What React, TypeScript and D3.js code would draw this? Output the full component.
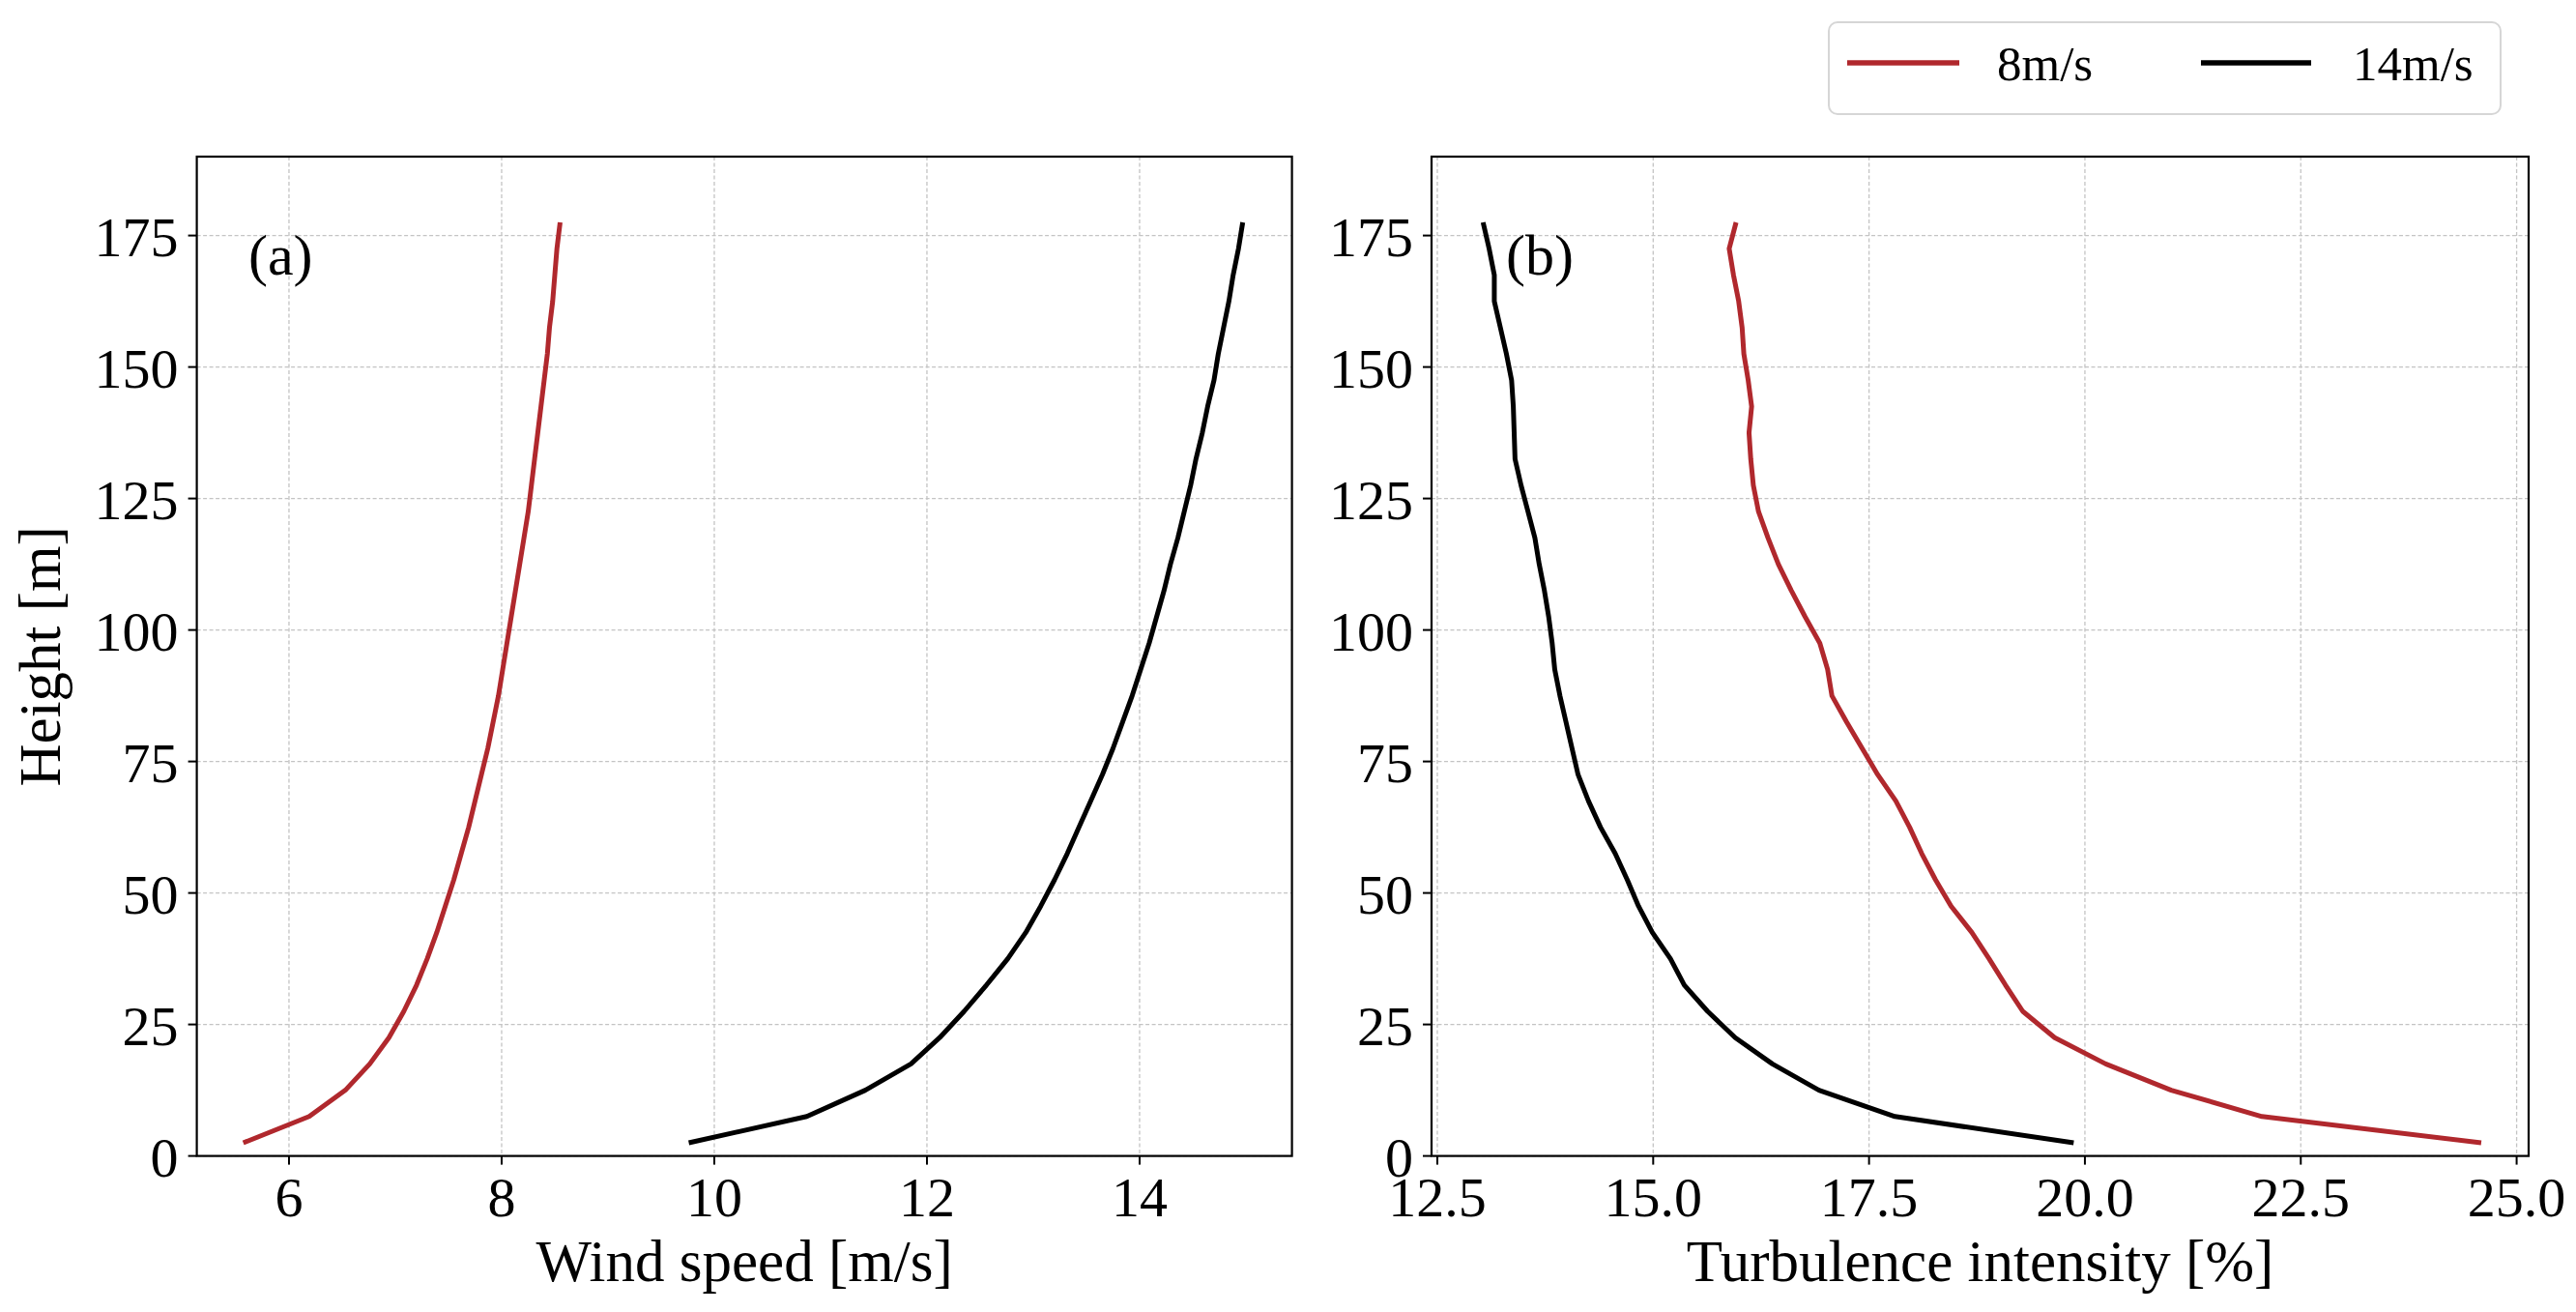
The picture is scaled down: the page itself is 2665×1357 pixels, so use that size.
import React from 'react';
import * as d3 from 'd3';

// heights of the measurement levels [m]
const heights = [
  2.5, 7.5, 12.5, 17.5, 22.5, 27.5, 32.5, 37.5, 42.5, 47.5, 52.5, 57.5,
  62.5, 67.5, 72.5, 77.5, 82.5, 87.5, 92.5, 97.5, 102.5, 107.5, 112.5, 117.5,
  122.5, 127.5, 132.5, 137.5, 142.5, 147.5, 152.5, 157.5, 162.5, 167.5, 172.5, 177.5,
];

// (a) wind speed [m/s]
const windSpeed8 = [
  5.57, 6.19, 6.53, 6.76, 6.94, 7.08, 7.2, 7.3, 7.39, 7.47, 7.55, 7.62,
  7.69, 7.75, 7.81, 7.87, 7.92, 7.97, 8.01, 8.05, 8.09, 8.13, 8.17, 8.21,
  8.25, 8.28, 8.31, 8.34, 8.37, 8.4, 8.43, 8.45, 8.48, 8.5, 8.52, 8.55,
];
const windSpeed14 = [
  9.76, 10.87, 11.42, 11.85, 12.12, 12.35, 12.56, 12.76, 12.93, 13.07, 13.2, 13.32,
  13.43, 13.54, 13.65, 13.75, 13.84, 13.93, 14.01, 14.09, 14.16, 14.23, 14.29, 14.36,
  14.42, 14.48, 14.53, 14.59, 14.64, 14.7, 14.74, 14.79, 14.84, 14.88, 14.93, 14.97,
];

// (b) turbulence intensity [%]
const turbulence8 = [
  24.59, 22.05, 21.0, 20.24, 19.65, 19.28, 19.08, 18.89, 18.69, 18.45, 18.27, 18.11,
  17.97, 17.81, 17.6, 17.42, 17.24, 17.07, 17.02, 16.93, 16.76, 16.6, 16.45, 16.33,
  16.22, 16.16, 16.13, 16.11, 16.14, 16.1, 16.05, 16.03, 15.99, 15.93, 15.88, 15.96,
];
const turbulence14 = [
  19.87, 17.8, 16.92, 16.38, 15.95, 15.63, 15.36, 15.2, 14.99, 14.83, 14.7, 14.56,
  14.39, 14.25, 14.13, 14.06, 13.99, 13.92, 13.86, 13.83, 13.79, 13.74, 13.68, 13.63,
  13.55, 13.47, 13.4, 13.39, 13.38, 13.36, 13.3, 13.23, 13.16, 13.16, 13.1, 13.03,
];

const yTicks = [0, 25, 50, 75, 100, 125, 150, 175];
const windTicks = [6, 8, 10, 12, 14];
const turbTicks = [12.5, 15.0, 17.5, 20.0, 22.5, 25.0];

const seriesNames = ['8m/s', '14m/s'];
const RED = '#b0282d';
const BLACK = '#000000';

const W = 2665;
const H = 1357;
const FONT = '"Liberation Serif", "Times New Roman", serif';
const top = 162;
const bottom = 1195.6;

const yScale = d3.scaleLinear().domain([0, 190]).range([bottom, top]);

interface PanelProps {
  left: number;
  right: number;
  domain: [number, number];
  ticks: number[];
  fmt: (v: number) => string;
  xLabel: string;
  tag: string;
  tagX: number;
  series: { values: number[]; color: string }[];
  showYLabel?: boolean;
}

const Panel: React.FC<PanelProps> = ({ left, right, domain, ticks, fmt, xLabel, tag, tagX, series, showYLabel }) => {
  const x = d3.scaleLinear().domain(domain).range([left, right]);
  const line = d3.line<[number, number]>()
    .x(d => x(d[0]))
    .y(d => yScale(d[1]));

  return (
    <g>
      {/* grid */}
      {ticks.map(t => (
        <line key={'gx' + t} x1={x(t)} x2={x(t)} y1={top} y2={bottom}
          stroke="#c4c4c4" strokeWidth={1.3} strokeDasharray="4,2.5" />
      ))}
      {yTicks.map(t => (
        <line key={'gy' + t} x1={left} x2={right} y1={yScale(t)} y2={yScale(t)}
          stroke="#c4c4c4" strokeWidth={1.3} strokeDasharray="4,2.5" />
      ))}

      {/* data */}
      {series.map((s, i) => (
        <path key={i} d={line(s.values.map((v, j) => [v, heights[j]]) as [number, number][]) || ''}
          fill="none" stroke={s.color} strokeWidth={5} strokeLinejoin="round" />
      ))}

      {/* frame */}
      <rect x={left} y={top} width={right - left} height={bottom - top}
        fill="none" stroke="#000" strokeWidth={2.2} />

      {/* x ticks */}
      {ticks.map(t => (
        <g key={'tx' + t}>
          <line x1={x(t)} x2={x(t)} y1={bottom} y2={bottom + 9} stroke="#000" strokeWidth={2} />
          <text x={x(t)} y={bottom + 62} textAnchor="middle" fontSize={58} fontFamily={FONT}>{fmt(t)}</text>
        </g>
      ))}
      {/* y ticks */}
      {yTicks.map(t => (
        <g key={'ty' + t}>
          <line x1={left - 9} x2={left} y1={yScale(t)} y2={yScale(t)} stroke="#000" strokeWidth={2} />
          <text x={left - 19} y={yScale(t)} dy="0.37em" textAnchor="end" fontSize={58} fontFamily={FONT}>{t}</text>
        </g>
      ))}

      <text x={(left + right) / 2} y={1325} textAnchor="middle" fontSize={61} fontFamily={FONT}>{xLabel}</text>
      {showYLabel && (
        <text transform={`translate(62,${(top + bottom) / 2}) rotate(-90)`} textAnchor="middle"
          fontSize={61} fontFamily={FONT}>Height [m]</text>
      )}
      <text x={tagX} y={284} fontSize={60} fontFamily={FONT}>{tag}</text>
    </g>
  );
};

const Legend: React.FC = () => {
  const items = [
    { name: seriesNames[0], color: RED, x0: 1911, x1: 2027, tx: 2066 },
    { name: seriesNames[1], color: BLACK, x0: 2277, x1: 2391, tx: 2434 },
  ];
  return (
    <g>
      <rect x={1892} y={23} width={695} height={95} rx={9} fill="#fff" stroke="#d6d6d6" strokeWidth={2} />
      {items.map(it => (
        <g key={it.name}>
          <line x1={it.x0} x2={it.x1} y1={65} y2={65} stroke={it.color} strokeWidth={5.5} />
          <text x={it.tx} y={83} fontSize={51} fontFamily={FONT}>{it.name}</text>
        </g>
      ))}
    </g>
  );
};

export default function App() {
  return (
    <svg width={W} height={H} style={{ position: 'absolute', left: 0, top: 0, background: '#fff' }}>
      <rect width={W} height={H} fill="#fff" />
      <Panel
        left={203.6} right={1336.6} domain={[5.133, 15.433]} ticks={windTicks}
        fmt={v => String(v)} xLabel="Wind speed [m/s]" tag="(a)" tagX={257}
        series={[{ values: windSpeed8, color: RED }, { values: windSpeed14, color: BLACK }]}
        showYLabel
      />
      <Panel
        left={1481} right={2616} domain={[12.433, 25.139]} ticks={turbTicks}
        fmt={v => v.toFixed(1)} xLabel="Turbulence intensity [%]" tag="(b)" tagX={1558}
        series={[{ values: turbulence8, color: RED }, { values: turbulence14, color: BLACK }]}
      />
      <Legend />
    </svg>
  );
}
